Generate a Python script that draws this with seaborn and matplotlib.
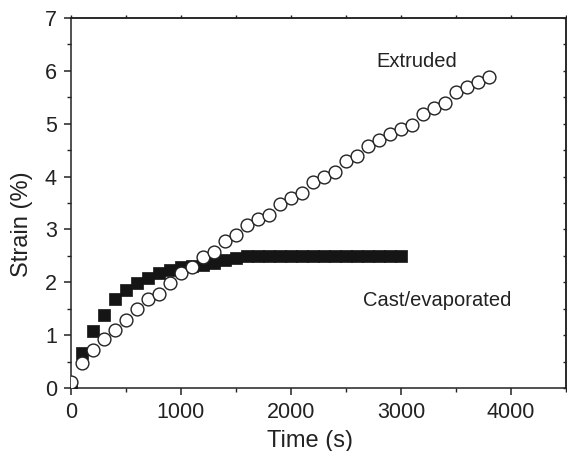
import matplotlib
matplotlib.use("Agg")
import matplotlib.pyplot as plt
import seaborn as sns
import pandas as pd
import numpy as np
from matplotlib.ticker import MultipleLocator

# Data
extruded_time = [0, 100, 200, 300, 400, 500, 600, 700, 800, 900, 1000, 1100, 1200,
                 1300, 1400, 1500, 1600, 1700, 1800, 1900, 2000, 2100, 2200, 2300,
                 2400, 2500, 2600, 2700, 2800, 2900, 3000, 3100, 3200, 3300, 3400,
                 3500, 3600, 3700, 3800]
extruded_strain = [0.12, 0.48, 0.72, 0.93, 1.10, 1.29, 1.49, 1.68, 1.78, 1.98, 2.18,
                   2.29, 2.48, 2.58, 2.78, 2.89, 3.08, 3.19, 3.28, 3.48, 3.59, 3.68,
                   3.89, 3.99, 4.09, 4.29, 4.39, 4.58, 4.69, 4.80, 4.89, 4.98, 5.19,
                   5.30, 5.39, 5.60, 5.70, 5.79, 5.89]

cast_time = [0, 100, 200, 300, 400, 500, 600, 700, 800, 900, 1000, 1100, 1200, 1300,
             1400, 1500, 1600, 1700, 1800, 1900, 2000, 2100, 2200, 2300, 2400, 2500,
             2600, 2700, 2800, 2900, 3000]
cast_strain = [0.02, 0.67, 1.08, 1.38, 1.68, 1.85, 1.99, 2.09, 2.18, 2.23, 2.29, 2.30,
               2.33, 2.37, 2.42, 2.46, 2.49, 2.49, 2.49, 2.49, 2.49, 2.49, 2.49, 2.49,
               2.49, 2.49, 2.49, 2.49, 2.49, 2.49, 2.49]

x_label = "Time (s)"
y_label = "Strain (%)"
label_extruded = "Extruded"
label_cast = "Cast/evaporated"

sns.set_style("ticks")
plt.rcParams['font.family'] = ['Liberation Sans', 'DejaVu Sans']

fig = plt.figure(figsize=(5.67, 4.51), dpi=100)
ax = fig.add_axes([0.125, 0.1397, 0.873, 0.8205])

df_cast = pd.DataFrame({"t": cast_time, "s": cast_strain})
df_ext = pd.DataFrame({"t": extruded_time, "s": extruded_strain})

sns.scatterplot(data=df_cast, x="t", y="s", ax=ax, marker="s", s=70,
                color="#151515", edgecolor="#151515", linewidth=0.5, zorder=3)
sns.scatterplot(data=df_ext, x="t", y="s", ax=ax, marker="o", s=85,
                facecolor="white", edgecolor="#222222", linewidth=1.0, zorder=4)

ax.set_xlim(0, 4500)
ax.set_ylim(0, 7)
ax.xaxis.set_major_locator(MultipleLocator(1000))
ax.xaxis.set_minor_locator(MultipleLocator(500))
ax.yaxis.set_major_locator(MultipleLocator(1))
ax.yaxis.set_minor_locator(MultipleLocator(0.5))

for sp in ax.spines.values():
    sp.set_visible(True)
    sp.set_linewidth(1.1)
    sp.set_color("#222222")

ax.tick_params(which="major", direction="out", length=5, width=1.1, labelsize=15.5,
               colors="#222222", pad=5)
ax.tick_params(which="minor", direction="out", length=3, width=1.0, colors="#222222")

secx = ax.secondary_xaxis("top")
secx.xaxis.set_major_locator(MultipleLocator(500))
secx.tick_params(direction="out", length=2, width=1.0, labeltop=False, colors="#222222")
secx.spines["top"].set_linewidth(1.1)
secy = ax.secondary_yaxis("right")
secy.yaxis.set_major_locator(MultipleLocator(0.5))
secy.tick_params(direction="in", length=2, width=1.0, labelright=False, colors="#222222")
secy.spines["right"].set_linewidth(1.1)

ax.set_xlabel(x_label, fontsize=17, color="#222222")
ax.set_ylabel(y_label, fontsize=17, color="#222222")
ax.xaxis.set_label_coords(0.483, -0.113)
ax.yaxis.set_label_coords(-0.077, 0.443)

ax.text(3145, 6.17, label_extruded, fontsize=14.5, ha="center", va="center", color="#222222")
ax.text(3330, 1.66, label_cast, fontsize=14.5, ha="center", va="center", color="#222222")

fig.savefig("out.png", dpi=100)
